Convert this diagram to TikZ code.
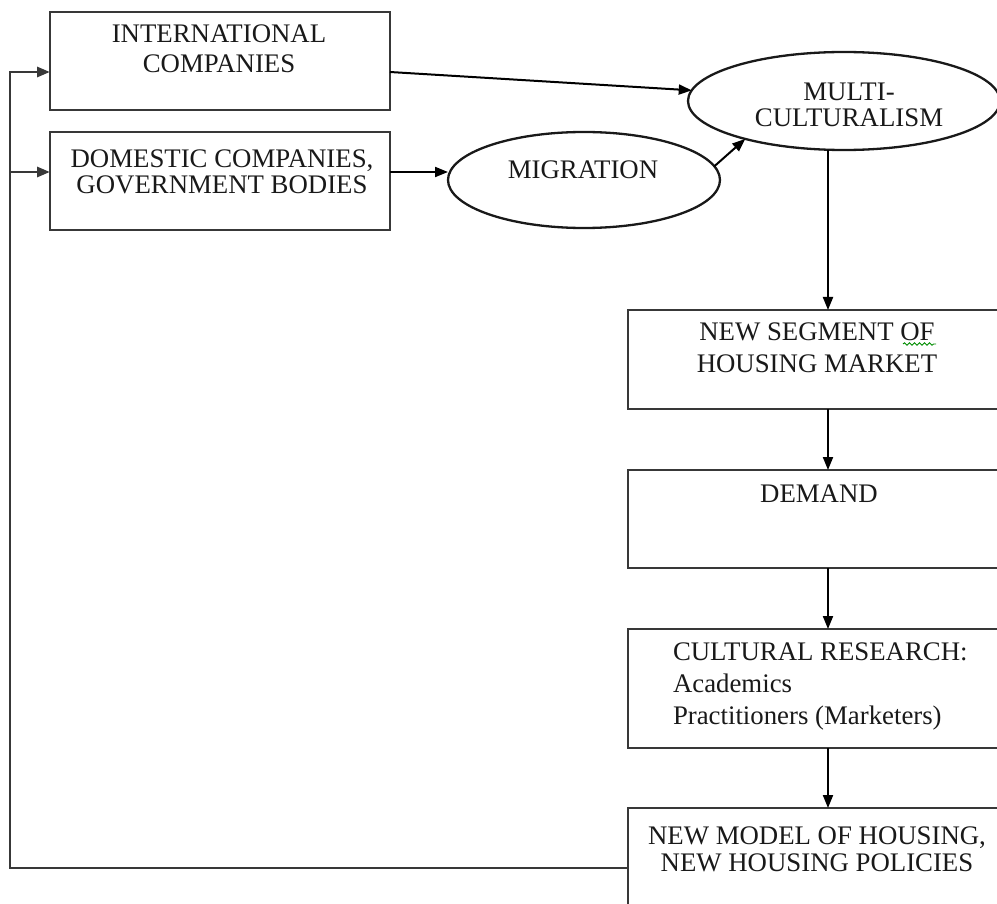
\documentclass[tikz,border=0pt]{standalone}
\usepackage{fontspec}
\setmainfont{Liberation Serif}
\usetikzlibrary{arrows.meta,shapes.geometric,calc,decorations.pathmorphing}
\begin{document}
\begin{tikzpicture}[x=1pt,y=-1pt,
  box/.style={draw=black!78, line width=2.9pt, rectangle, inner sep=0pt, outer sep=0pt, anchor=north west},
  oval/.style={draw=black!90, line width=2.3pt, ellipse, inner sep=0pt, outer sep=0pt},
  lbl/.style={inner sep=0pt, outer sep=0pt, anchor=north, align=center, text=black!90, font=\fontsize{26.8}{29}\selectfont},
  arrowtip/.style={-{Triangle[length=13pt,width=10pt]}},
  arr/.style={draw=black, line width=2pt, arrowtip},
  fb/.style={draw=black!78, line width=2.9pt}]
\useasboundingbox (0,0) rectangle (997,904);
\clip (0,0) rectangle (997,904);

% boxes and ovals
\node[box, minimum width=340pt, minimum height=98pt] (intl) at (50,12) {};
\node[box, minimum width=340pt, minimum height=98pt] (dom) at (50,132) {};
\node[oval, minimum width=272pt, minimum height=96pt] (mig) at (584,180) {};
\node[oval, minimum width=312pt, minimum height=98pt] (multi) at (844,101) {};
\node[box, minimum width=382pt, minimum height=99pt] (seg) at (628,310) {};
\node[box, minimum width=382pt, minimum height=98pt] (dem) at (628,470) {};
\node[box, minimum width=382pt, minimum height=119pt] (cult) at (628,629) {};
\node[box, minimum width=382pt, minimum height=120pt] (model) at (628,808) {};

% labels
\node[lbl, font=\fontsize{26.8}{30}\selectfont] (intlT) at (219,25) {INTERNATIONAL\\COMPANIES};
\node[lbl, font=\fontsize{26.8}{26}\selectfont] (domT) at (222,150) {DOMESTIC COMPANIES,\\GOVERNMENT BODIES};
\node[lbl] (migT) at (583,161) {MIGRATION};
\node[lbl, font=\fontsize{26.8}{26}\selectfont] (multiT) at (849,83) {MULTI-\\CULTURALISM};
\node[lbl, font=\fontsize{26.8}{32}\selectfont] (segT) at (817,323) {NEW SEGMENT OF\\HOUSING MARKET};
\node[lbl] (demT) at (819,485) {DEMAND};
\node[lbl, anchor=north west, align=left, font=\fontsize{26.8}{32}\selectfont] (cultT) at (673,643) {CULTURAL RESEARCH:\\Academics\\Practitioners (Marketers)};
\node[lbl, font=\fontsize{26.8}{27}\selectfont] (modelT) at (817,827) {NEW MODEL OF HOUSING,\\NEW HOUSING POLICIES};

% spell-check squiggle under "OF"
\coordinate (sqA) at (903,344);
\coordinate (sqB) at (936,344);
\draw[green!55!black, line width=0.9pt, decorate, decoration={snake, amplitude=1.2pt, segment length=5pt}] (sqA) -- (sqB);

% connectors
\coordinate (col) at (828,0);
\coordinate (loopx) at (10,0);
\coordinate (intlIn) at ([yshift=-11pt]intl.west);
\coordinate (domIn) at ([yshift=9pt]dom.west);
\coordinate (intlOut) at ([yshift=-11pt]intl.east);
\coordinate (domOut) at ([yshift=9pt]dom.east);

\draw[arr] (intlOut) -- (multi.176);
\draw[arr] (domOut) -- (domOut -| mig.west);
\draw[arr] (mig.6) -- (multi.201);
\draw[arr] (multi.south -| col) -- (seg.north -| col);
\draw[arr] (seg.south -| col) -- (dem.north -| col);
\draw[arr] (dem.south -| col) -- (cult.north -| col);
\draw[arr] (cult.south -| col) -- (model.north -| col);

% feedback loop
\draw[fb, arrowtip] (model.west) -| (intlIn -| loopx) -- (intlIn);
\draw[fb, arrowtip] (domIn -| loopx) -- (domIn);
\end{tikzpicture}
\end{document}
